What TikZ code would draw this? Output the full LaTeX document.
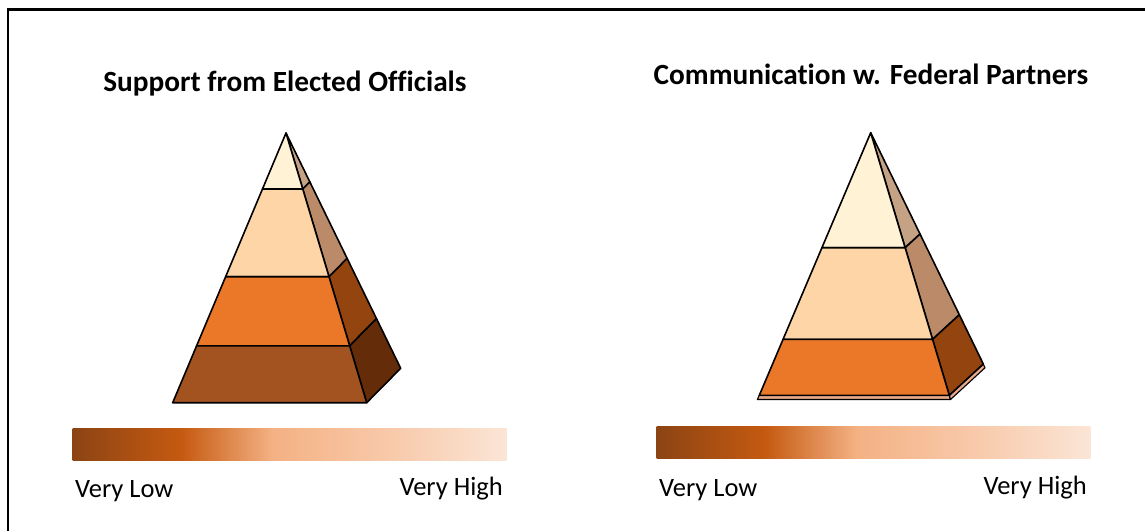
\documentclass[tikz,border=0pt]{standalone}
\usepackage{fontspec}
\setmainfont{Carlito}[Ligatures=NoCommon]
\usetikzlibrary{calc}
\definecolor{creamC}{HTML}{FFF2D5}
\definecolor{peachC}{HTML}{FDD5A6}
\definecolor{orangeC}{HTML}{EB7828}
\definecolor{brownC}{HTML}{A2531F}
\definecolor{sideA}{HTML}{C6A285}
\definecolor{sideB}{HTML}{BA8A69}
\definecolor{sideC}{HTML}{94450F}
\definecolor{sideD}{HTML}{652C0A}
\definecolor{slabC}{HTML}{E8A98A}
\definecolor{gA}{HTML}{8C4414}
\definecolor{gB}{HTML}{C55A11}
\definecolor{gC}{HTML}{F4B183}
\definecolor{gD}{HTML}{F8CBAD}
\definecolor{gE}{HTML}{FBE5D6}
\pgfdeclarehorizontalshading{barshade}{100bp}{color(0bp)=(gA); color(25bp)=(gA); color(37.5bp)=(gB); color(48bp)=(gC); color(62.5bp)=(gD); color(75bp)=(gE); color(100bp)=(gE)}
\tikzset{
  face/.style={draw=black, line width=1.6pt, line join=round},
  titletext/.style={font=\fontsize{29.3}{34}\selectfont\bfseries, anchor=base, inner sep=0pt},
  scaletext/.style={font=\fontsize{26.5}{31}\selectfont, anchor=base, inner sep=0pt},
  bar/.style={shading=barshade, draw=none}
}
\begin{document}
\begin{tikzpicture}[x=1pt,y=-1pt]
\useasboundingbox (0,0) rectangle (1145,531);
\fill[white] (0,0) rectangle (1145,531);
\draw[line width=2.6pt] (8,531) -- (8,9.5) -- (1145,9.5);

% ---------- Pyramid 1 ----------
\coordinate (pA) at (286,133);
\coordinate (pL) at (172.7,402.7);
\coordinate (pR) at (366.7,402.7);
\coordinate (pK) at (400.7,368.3);
\foreach \n/\t in {1/0.2076,2/0.533,3/0.789,4/1}{
  \coordinate (pL\n) at ($(pA)!\t!(pL)$);
  \coordinate (pR\n) at ($(pA)!\t!(pR)$);
  \coordinate (pK\n) at ($(pA)!\t!(pK)$);
}
% side faces
\filldraw[face, fill=sideA] (pA) -- (pR1) -- (pK1) -- cycle;
\filldraw[face, fill=sideB] (pR1) -- (pR2) -- (pK2) -- (pK1) -- cycle;
\filldraw[face, fill=sideC] (pR2) -- (pR3) -- (pK3) -- (pK2) -- cycle;
\filldraw[face, fill=sideD] (pR3) -- (pR4) -- (pK4) -- (pK3) -- cycle;
% front faces
\filldraw[face, fill=creamC] (pA) -- (pL1) -- (pR1) -- cycle;
\filldraw[face, fill=peachC] (pL1) -- (pL2) -- (pR2) -- (pR1) -- cycle;
\filldraw[face, fill=orangeC] (pL2) -- (pL3) -- (pR3) -- (pR2) -- cycle;
\filldraw[face, fill=brownC] (pL3) -- (pL4) -- (pR4) -- (pR3) -- cycle;

% ---------- Pyramid 2 ----------
\coordinate (qA) at (870.7,132.7);
\coordinate (qL) at (759.3,395.3);
\coordinate (qR) at (949.3,395.3);
\coordinate (qK) at (983.3,364);
\foreach \n/\t in {1/0.438,2/0.787,3/1}{
  \coordinate (qL\n) at ($(qA)!\t!(qL)$);
  \coordinate (qR\n) at ($(qA)!\t!(qR)$);
  \coordinate (qK\n) at ($(qA)!\t!(qK)$);
}
\coordinate (qLs) at (757.3,399.5);
\coordinate (qRs) at (950.5,399.5);
\coordinate (qKs) at (985,367.8);
% base slab
\filldraw[face, line width=1.1pt, fill=slabC] (qL) -- (qLs) -- (qRs) -- (qR) -- cycle;
\filldraw[face, line width=1.1pt, fill=slabC] (qR) -- (qRs) -- (qKs) -- (qK) -- cycle;
% side faces
\filldraw[face, fill=sideA] (qA) -- (qR1) -- (qK1) -- cycle;
\filldraw[face, fill=sideB] (qR1) -- (qR2) -- (qK2) -- (qK1) -- cycle;
\filldraw[face, fill=sideC] (qR2) -- (qR3) -- (qK3) -- (qK2) -- cycle;
% front faces
\filldraw[face, fill=creamC] (qA) -- (qL1) -- (qR1) -- cycle;
\filldraw[face, fill=peachC] (qL1) -- (qL2) -- (qR2) -- (qR1) -- cycle;
\filldraw[face, fill=orangeC] (qL2) -- (qL3) -- (qR3) -- (qR2) -- cycle;

% ---------- Titles ----------
\node[titletext] (t1) at (285,91) {Support from Elected Officials};
\node[titletext] (t2) at (871,84) {Communication w. Federal Partners};

% ---------- Scale bars ----------
\path[bar] (72.7,428.3) rectangle (506.7,460.7);
\node[draw=none, inner sep=0pt, minimum width=434pt, minimum height=32.4pt] (bar1) at (289.7,444.5) {};
\path[bar] (656.7,426) rectangle (1090.7,458.7);
\node[draw=none, inner sep=0pt, minimum width=434pt, minimum height=32.7pt] (bar2) at (873.7,442.35) {};

\node[scaletext, anchor=base west] (lo1) at (75,497) {Very Low};
\node[scaletext, anchor=base east] (hi1) at (503,495) {Very High};
\node[scaletext, anchor=base west] (lo2) at (659,496) {Very Low};
\node[scaletext, anchor=base east] (hi2) at (1087,494) {Very High};
\end{tikzpicture}
\end{document}
